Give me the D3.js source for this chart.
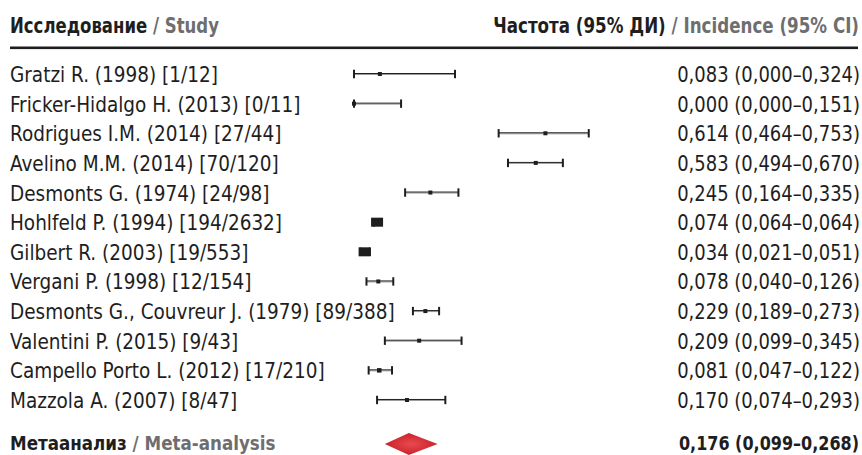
<!DOCTYPE html>
<html><head><meta charset="utf-8">
<script src="https://cdn.jsdelivr.net/npm/d3@7"></script>
<style>
body{margin:0;background:#fff;}
text{font-family:"Liberation Sans Narrow","DejaVu Sans Condensed",sans-serif;}
</style></head>
<body><svg id="c" width="862" height="455"></svg>
<script>
const studies = ["Gratzi R. (1998) [1/12]","Fricker-Hidalgo H. (2013) [0/11]","Rodrigues I.M. (2014) [27/44]","Avelino M.M. (2014) [70/120]","Desmonts G. (1974) [24/98]","Hohlfeld P. (1994) [194/2632]","Gilbert R. (2003) [19/553]","Vergani P. (1998) [12/154]","Desmonts G., Couvreur J. (1979) [89/388]","Valentini P. (2015) [9/43]","Campello Porto L. (2012) [17/210]","Mazzola A. (2007) [8/47]"];
const est = [0.083,0.000,0.614,0.583,0.245,0.074,0.034,0.078,0.229,0.209,0.081,0.170];
const lo  = [0.000,0.000,0.464,0.494,0.164,0.064,0.021,0.040,0.189,0.099,0.047,0.074];
const hi  = [0.324,0.151,0.753,0.670,0.335,0.064,0.051,0.126,0.273,0.345,0.122,0.293];
const weights = [1,1,1,1,1,9,9,1,1,1,1.5,1];
const meta = {est:0.176, lo:0.099, hi:0.268};
const headerLeft = ["Исследование", " / Study"];
const headerRight = ["Частота (95% ДИ)", " / Incidence (95% CI)"];
const metaLabel = ["Метаанализ", " / Meta-analysis"];

const fmt = v => d3.format(".3f")(v).replace(".", ",");
const svg = d3.select("#c");
const x = d3.scaleLinear().domain([0, 0.8]).range([354, 603.4]);
const y = d3.scaleBand().domain(d3.range(studies.length)).range([59.2, 414.8]);
const yc = i => y(i) + y.bandwidth()/2;
const sz = d3.scaleLinear().domain([1, 9]).range([4, 12]);
const dark = "#1e1e1e", grey = "#6e6e6e";

function squeezed(px, py, sx, anchor, size) {
  return svg.append("g").attr("transform", `translate(${px},${py}) scale(${sx},1)`)
    .append("text").attr("text-anchor", anchor).attr("font-size", size).attr("font-weight", "bold").attr("fill", dark);
}

// header
const hl = squeezed(10, 33, 0.875, "start", 21);
hl.append("tspan").text(headerLeft[0]);
hl.append("tspan").attr("fill", grey).text(headerLeft[1]);
const hr = squeezed(859, 33, 0.885, "end", 21);
hr.append("tspan").text(headerRight[0]);
hr.append("tspan").attr("fill", grey).text(headerRight[1]);
svg.append("rect").attr("x", 10).attr("y", 46.5).attr("width", 848).attr("height", 2.6).attr("fill", dark);

const rows = svg.append("g").selectAll("g").data(studies).join("g");
rows.append("text").attr("x", 10).attr("y", (d,i) => yc(i) + 8).attr("font-size", 20.5).attr("fill", dark).text(d => d);
rows.append("g").attr("transform", (d,i) => `translate(860,${yc(i) + 8}) scale(0.96,1)`)
  .append("text").attr("text-anchor", "end").attr("font-size", 20.8).attr("fill", dark)
  .text((d,i) => `${fmt(est[i])} (${fmt(lo[i])}–${fmt(hi[i])})`);

// CI lines
rows.append("line").attr("x1", (d,i) => x(lo[i])).attr("x2", (d,i) => x(hi[i]))
  .attr("y1", (d,i) => yc(i)+0.5).attr("y2", (d,i) => yc(i)+0.5).attr("stroke", "#9a9a9a").attr("stroke-width", 1);
rows.append("line").attr("x1", (d,i) => x(lo[i])).attr("x2", (d,i) => x(hi[i]))
  .attr("y1", (d,i) => yc(i)-0.5).attr("y2", (d,i) => yc(i)-0.5).attr("stroke", dark).attr("stroke-width", 1);
[lo, hi].forEach(arr => {
  rows.append("line").attr("x1", (d,i) => x(arr[i])).attr("x2", (d,i) => x(arr[i]))
    .attr("y1", (d,i) => yc(i)-4.2).attr("y2", (d,i) => yc(i)+4.2).attr("stroke", dark).attr("stroke-width", 2);
});
rows.append("rect")
  .attr("x", (d,i) => x(est[i]) - sz(weights[i])/2)
  .attr("y", (d,i) => yc(i) - sz(weights[i])*0.375 - (weights[i] > 2 ? 0 : sz(weights[i])*0.125))
  .attr("width", (d,i) => sz(weights[i]))
  .attr("height", (d,i) => weights[i] > 2 ? sz(weights[i])*0.75 : sz(weights[i]))
  .attr("fill", dark);

// meta
const defs = svg.append("defs");
const g = defs.append("radialGradient").attr("id", "rg").attr("cx", "50%").attr("cy", "50%").attr("r", "50%");
g.append("stop").attr("offset", "0%").attr("stop-color", "#ea4a4f");
g.append("stop").attr("offset", "100%").attr("stop-color", "#c8232a");
const my = 444;
svg.append("path")
  .attr("d", `M${x(meta.lo)},${my} L${x(meta.est)},${my-11} L${x(meta.hi)},${my} L${x(meta.est)},${my+11} Z`)
  .attr("fill", "url(#rg)");
const ml = squeezed(10, 450, 0.93, "start", 20);
ml.append("tspan").text(metaLabel[0]);
ml.append("tspan").attr("fill", grey).text(metaLabel[1]);
squeezed(859, 450, 0.89, "end", 20)
  .text(`${fmt(meta.est)} (${fmt(meta.lo)}–${fmt(meta.hi)})`);
</script></body></html>
